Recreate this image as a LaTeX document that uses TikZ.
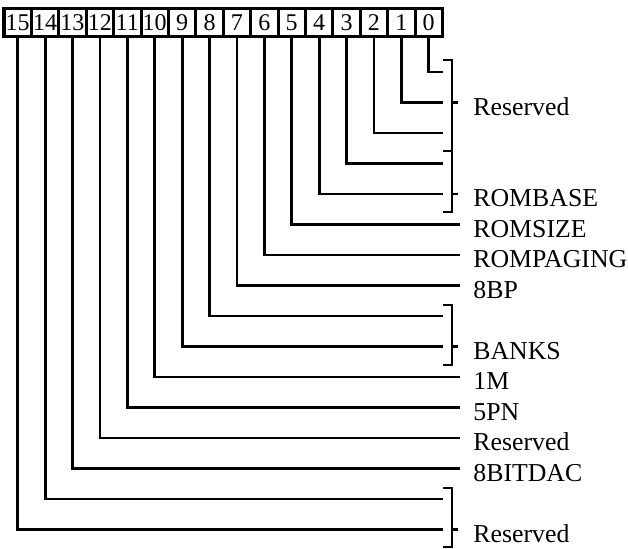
\documentclass[tikz,border=0pt]{standalone}
\usepackage{fontspec}
\setmainfont{Liberation Serif}
\usetikzlibrary{positioning}
\tikzset{
    bitbox/.style={
        draw,
        line width=1.5pt,
        minimum width=13.7pt,
        minimum height=14pt,
        inner sep=0pt,
        outer sep=0pt,
        font=\fontsize{12}{14}\selectfont
    },
    wire/.style={
        line width=1.4pt
    },
    field/.style={
        anchor=base west,
        inner sep=0pt,
        font=\fontsize{12.9}{14}\selectfont
    }
}
\begin{document}
\begin{tikzpicture}[x=0.5pt, y=-0.5pt]
    \useasboundingbox (0,0) rectangle (628,549);

    % Register bits
    \node[bitbox] (b15) at (17.7,23) {15};
    \node[bitbox, right=0pt of b15] (b14) {14};
    \node[bitbox, right=0pt of b14] (b13) {13};
    \node[bitbox, right=0pt of b13] (b12) {12};
    \node[bitbox, right=0pt of b12] (b11) {11};
    \node[bitbox, right=0pt of b11] (b10) {10};
    \node[bitbox, right=0pt of b10] (b9) {9};
    \node[bitbox, right=0pt of b9] (b8) {8};
    \node[bitbox, right=0pt of b8] (b7) {7};
    \node[bitbox, right=0pt of b7] (b6) {6};
    \node[bitbox, right=0pt of b6] (b5) {5};
    \node[bitbox, right=0pt of b5] (b4) {4};
    \node[bitbox, right=0pt of b4] (b3) {3};
    \node[bitbox, right=0pt of b3] (b2) {2};
    \node[bitbox, right=0pt of b2] (b1) {1};
    \node[bitbox, right=0pt of b1] (b0) {0};

    % Wire ends
    \coordinate (e0) at (443,72);
    \coordinate (e1) at (443,102.5);
    \coordinate (e2) at (443,133);
    \coordinate (e3) at (443,163.5);
    \coordinate (e4) at (443,194);
    \coordinate (e5) at (460,224.5);
    \coordinate (e6) at (460,255);
    \coordinate (e7) at (460,285.5);
    \coordinate (e8) at (443,316);
    \coordinate (e9) at (443,346.5);
    \coordinate (e10) at (460,377);
    \coordinate (e11) at (460,407.5);
    \coordinate (e12) at (460,438);
    \coordinate (e13) at (460,468.5);
    \coordinate (e14) at (443,499);
    \coordinate (e15) at (443,529.5);

    % Wires
    \foreach \i in {0,...,15}
        \draw[wire] (b\i.south) |- (e\i);

    % Brackets
    \draw[wire] (443,60) -| (452,151) -- (443,151);
    \draw[wire] (452,102.5) -- (458,102.5);
    \draw[wire] (443,151) -| (452,212) -- (443,212);
    \draw[wire] (452,194) -- (458,194);
    \draw[wire] (443,305) -| (452,365) -- (443,365);
    \draw[wire] (452,346.5) -- (458,346.5);
    \draw[wire] (443,488) -| (452,547) -- (443,547);
    \draw[wire] (452,529.5) -- (458,529.5);

    % Field names
    \node[field] (reslow) at (473,115.5) {Reserved};
    \node[field] (rombase) at (473,207) {ROMBASE};
    \node[field] (romsize) at (473,237.5) {ROMSIZE};
    \node[field] (rompaging) at (473,268) {ROMPAGING};
    \node[field] (eightbp) at (473,298.5) {8BP};
    \node[field] (banks) at (473,359.5) {BANKS};
    \node[field] (onem) at (473,390) {1M};
    \node[field] (fivepn) at (473,420.5) {5PN};
    \node[field] (resmid) at (473,451) {Reserved};
    \node[field] (dac) at (473,481.5) {8BITDAC};
    \node[field] (reshigh) at (473,542.5) {Reserved};
\end{tikzpicture}
\end{document}
